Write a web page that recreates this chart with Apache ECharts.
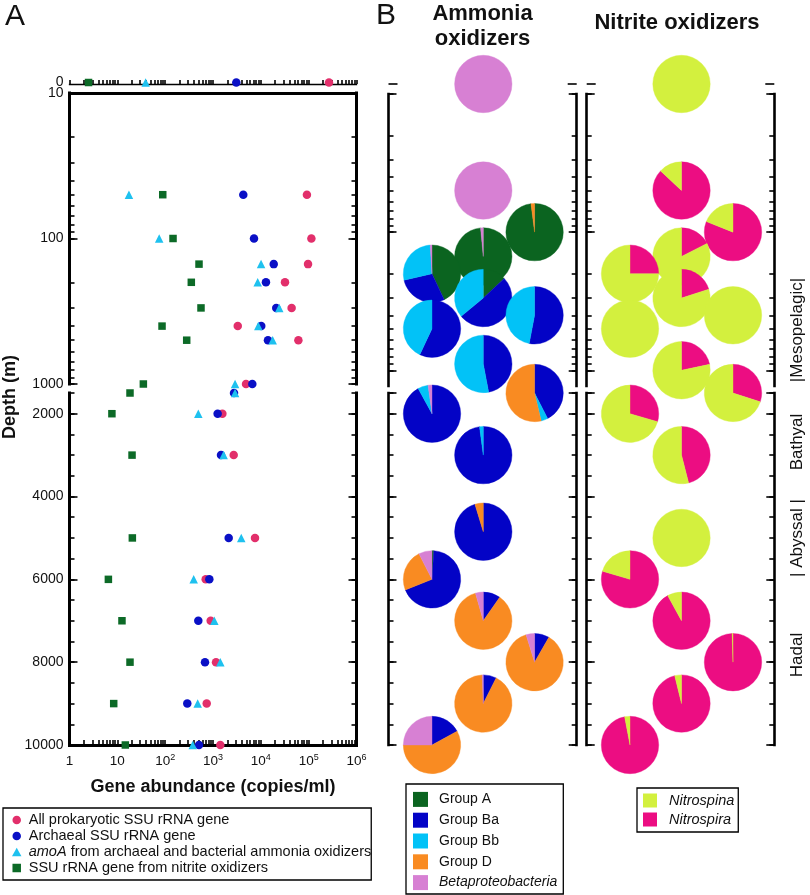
<!DOCTYPE html>
<html><head><meta charset="utf-8">
<script src="https://cdn.jsdelivr.net/npm/echarts@6/dist/echarts.min.js"></script>
<style>html,body{margin:0;padding:0;background:#fff}#c{width:810px;height:895px}</style>
</head><body><div id="c"></div>
<script>
// ---------------- Panel A data (gene abundance, copies/ml) ----------------
const depthA = [0, 50, 100, 150, 200, 300, 400, 500, 1000, 1500, 2000, 3000, 5000, 6000, 7000, 8000, 9000, 10000];
const allProkaryotic = [2.66e5, 9.2e4, 1.14e5, 9.7e4, 3.2e4, 4.4e4, 3290, 6.1e4, 4900, null, 1570, 2710, 7560, 704, 895, 1156, 739, 1422];
const archaealSSU   = [3070, 4300, 7200, 1.86e4, 1.28e4, 2.1e4, 1.02e4, 1.41e4, 6640, 2750, 1250, 1470, 2130, 838, 493, 680, 290, 510];
const amoAGene      = [39, 17.5, 75, 1.01e4, 8600, 2.43e4, 8860, 1.77e4, 2890, 2890, 493, 1670, 3900, 395, 1065, 1422, 479, 377];
const nitriteSSU    = [2.5, 89, 146, 510, 352, 561, 86, 282, 35, 18.4, 7.7, 20.3, 20.6, 6.5, 12.5, 18.4, 8.4, 14.7];

// ---------------- Panel B data (community composition, %) ----------------
const ammoniaDepth = [0, 50, 100, 150, 200, 300, 400, 500, 900, 1500, 2000, 3000, 4850, 6000, 7000, 8000, 9000, 10000];
const ammoniaCol   = [1, 1, 2, 1, 0, 1, 2, 0, 1, 2, 0, 1, 1, 0, 1, 2, 1, 0];
const groupA       = [0, 0, 98, 98.5, 43, 13, 0, 0, 0, 0, 0, 0, 0, 1, 0, 0, 0, 0];
const groupBa      = [0, 0, 0, 0, 28.4, 51, 53, 57, 47, 42.5, 92, 97.9, 95.3, 68, 9.7, 8.3, 7.4, 17];
const groupBb      = [0, 0, 0, 0, 27.6, 36, 47, 43, 53, 3.8, 5.8, 2.1, 0, 0, 0, 0, 0, 0];
const groupD       = [0, 0, 2, 0, 0, 0, 0, 0, 0, 53.7, 0, 0, 4.7, 23.5, 85.9, 86.9, 92, 58];
const betaproteo   = [100, 100, 0, 1.5, 1, 0, 0, 0, 0, 0, 2.2, 0, 0, 7.5, 4.4, 4.8, 0.6, 25];

const nitriteDepth = [0, 50, 100, 150, 200, 300, 400, 500, 1000, 1500, 2000, 3000, 5000, 6000, 7000, 8000, 9000, 10000];
const nitriteCol   = [1, 1, 2, 1, 0, 1, 2, 0, 1, 2, 0, 1, 1, 0, 1, 2, 1, 0];
const nitrospira   = [0, 87, 81, 17.5, 25, 20, 0, 0, 21.7, 30, 29.5, 46, 0, 79.6, 92, 99.5, 96.2, 97];
const nitrospina   = [100, 13, 19, 82.5, 75, 80, 100, 100, 78.3, 70, 70.5, 54, 100, 20.4, 8, 0.5, 3.8, 3];

// ---------------- tick values ----------------
const xLabelValues   = [1, 10, 100, 1000, 10000, 100000, 1000000];
const depthLogLabels = [10, 100, 1000];
const depthLinLabels = [2000, 4000, 6000, 8000, 10000];
const depthLinTicks  = [1500, 2000, 2500, 3000, 3500, 4000, 4500, 5000, 5500, 6000, 6500, 7000, 7500, 8000, 8500, 9000, 9500, 10000];
function logTicks(lo, hi) { const o = []; for (let d = lo; d < hi; d *= 10) for (let k = 1; k < 10; k++) o.push(k * d); o.push(hi); return o; }
const xMinorTicks = logTicks(1, 1e6);
const depthLogTicks = logTicks(10, 1000);

// ---------------- names & colours ----------------
const FF = '"Liberation Sans", Arial, Helvetica, sans-serif';
const TXT = '#111';
const nameAll = 'All prokaryotic SSU rRNA gene';
const nameArch = 'Archaeal SSU rRNA gene';
const nameAmoA = 'amoA from archaeal and bacterial ammonia oxidizers';
const nameNob = 'SSU rRNA gene from nitrite oxidizers';
const ammoniaNames = ['Group A', 'Group Ba', 'Group Bb', 'Group D', 'Betaproteobacteria'];
const ammoniaColors = ['#0b6420', '#0303c6', '#02c2f7', '#f98b22', '#d780d3'];
const nitriteNames = ['Nitrospira', 'Nitrospina'];
const nitriteColors = ['#ec0d82', '#d3f03e'];

// ---------------- layout helpers ----------------
const grids = [], xAxes = [], yAxes = [], series = [];
function addGrid(g) { grids.push(Object.assign({ outerBoundsMode: 'none', containLabel: false }, g)); return grids.length - 1; }
function addX(o) { xAxes.push(Object.assign({ splitLine: { show: false }, axisPointer: { show: false } }, o)); return xAxes.length - 1; }
function addY(o) { yAxes.push(Object.assign({ splitLine: { show: false }, axisPointer: { show: false } }, o)); return yAxes.length - 1; }
function line(w) { return { show: true, onZero: false, lineStyle: { color: '#000', width: w, cap: 'square' } }; }
function ticks(vals, len) { return { show: true, inside: true, length: len, customValues: vals, lineStyle: { color: '#000', width: 1.6 } }; }
const noLabel = { show: false };
const noLine = { show: false, onZero: false };
const plainNum = v => String(v);

function yAxisSet(gi, common, minor, major, labels, lw) {
  const first = addY(Object.assign({ gridIndex: gi, position: 'left', axisLine: line(lw), axisTick: ticks(minor, 5),
    axisLabel: labels ? { customValues: labels, fontSize: 14, margin: 6, color: TXT, fontFamily: FF, formatter: plainNum } : noLabel }, common));
  addY(Object.assign({ gridIndex: gi, position: 'left', axisLine: noLine, axisTick: ticks(major, 8), axisLabel: noLabel }, common));
  addY(Object.assign({ gridIndex: gi, position: 'right', axisLine: line(lw), axisTick: ticks(minor, 5), axisLabel: noLabel }, common));
  addY(Object.assign({ gridIndex: gi, position: 'right', axisLine: noLine, axisTick: ticks(major, 8), axisLabel: noLabel }, common));
  return first;
}
function sectionOf(d) { return d === 0 ? 0 : (d <= 1300 ? 1 : 2); }

// ---------------- Panel A ----------------
const AL = 69.5, AW = 287;
const gA = [addGrid({ left: AL, width: AW, top: 81, height: 3 }),
            addGrid({ left: AL, width: AW, top: 93, height: 291 }),
            addGrid({ left: AL, width: AW, top: 393, height: 352 })];
const xLog = { type: 'log', logBase: 10, min: 1, max: 1e6 };
const xA = [
  addX(Object.assign({ gridIndex: gA[0], position: 'bottom', axisLine: line(1.3), axisTick: ticks(xMinorTicks, 4), axisLabel: noLabel }, xLog)),
  addX(Object.assign({ gridIndex: gA[1], position: 'top', axisLine: line(3), axisTick: { show: false }, axisLabel: noLabel }, xLog)),
  addX(Object.assign({ gridIndex: gA[2], position: 'bottom', axisLine: line(3), axisTick: ticks(xMinorTicks, 5),
    axisLabel: { customValues: xLabelValues, margin: 8, color: TXT, fontFamily: FF, fontSize: 13.5,
      formatter: v => { const e = Math.round(Math.log10(v)); return e === 0 ? '{b|1}' : (e === 1 ? '{b|10}' : '{b|10}{s|' + e + '}'); },
      rich: { b: { fontSize: 13.5, lineHeight: 17, fontFamily: FF, color: TXT }, s: { fontSize: 9, lineHeight: 10, verticalAlign: 'top', fontFamily: FF, color: TXT } } },
    name: 'Gene abundance (copies/ml)', nameLocation: 'middle', nameGap: 33,
    nameTextStyle: { fontSize: 18, fontWeight: 'bold', fontFamily: FF, color: TXT } }, xLog))
];
const yA = [
  addY({ gridIndex: gA[0], type: 'value', min: -1, max: 1, position: 'left', axisLine: noLine, axisTick: { show: false },
    axisLabel: { customValues: [0], fontSize: 14, margin: 6, color: TXT, fontFamily: FF, formatter: plainNum } }),
  yAxisSet(gA[1], { type: 'log', logBase: 10, min: 10, max: 1000, inverse: true }, depthLogTicks, depthLogLabels, depthLogLabels, 3),
  yAxisSet(gA[2], { type: 'value', min: 1500, max: 10000, inverse: true }, depthLinTicks, depthLinLabels, depthLinLabels, 3)
];

const ICON_SQ = 'path://M0,0L10,0L10,10L0,10Z';
const ICON_TRI = 'path://M5,0L10,9L0,9Z';
const typesA = [
  { name: nameAll, vals: allProkaryotic, symbol: 'circle', size: 8.5, color: '#e22f6b' },
  { name: nameArch, vals: archaealSSU, symbol: 'circle', size: 8.5, color: '#0a10c6' },
  { name: nameAmoA, vals: amoAGene, symbol: 'triangle', size: 8.5, color: '#1ec1ef' },
  { name: nameNob, vals: nitriteSSU, symbol: 'rect', size: 7.5, color: '#0c6a27' }
];
typesA.forEach(t => {
  [0, 1, 2].forEach(s => {
    const data = [];
    depthA.forEach((d, i) => { if (sectionOf(d) === s && t.vals[i] != null) data.push([t.vals[i], s === 0 ? 0 : d]); });
    series.push({ type: 'scatter', name: t.name, xAxisIndex: xA[s], yAxisIndex: yA[s], symbol: t.symbol, symbolSize: t.size,
      itemStyle: { color: t.color, opacity: 1 }, data, clip: false, silent: true });
  });
});

// ---------------- Panel B ----------------
const R_PIE = 28.7;
function pieRenderer(colors) {
  return function (params, api) {
    const c = api.coord([api.value(0), api.value(1)]);
    const vals = colors.map((_, i) => api.value(2 + i) || 0);
    const total = vals.reduce((a, b) => a + b, 0);
    let a = -Math.PI / 2;
    const children = [];
    vals.forEach((v, i) => {
      if (v <= 0) return;
      const sweep = v / total * Math.PI * 2;
      children.push({ type: 'sector', shape: { cx: c[0], cy: c[1], r0: 0, r: R_PIE, startAngle: a, endAngle: a + sweep, clockwise: true },
        style: { fill: colors[i], stroke: colors[i], lineWidth: 0.4 } });
      a += sweep;
    });
    return { type: 'group', children };
  };
}
function buildPanelB(left, width, xmin, xmax, depths, cols, parts, colors) {
  const g = [addGrid({ left, width, top: 82, height: 4 }), addGrid({ left, width, top: 94, height: 292 }), addGrid({ left, width, top: 393, height: 352 })];
  const xs = g.map(gi => addX({ gridIndex: gi, type: 'value', min: xmin, max: xmax, show: false }));
  const ys = [];
  const y0 = addY({ gridIndex: g[0], type: 'value', min: -1, max: 1, position: 'left', axisLine: noLine, axisTick: ticks([0], 9), axisLabel: noLabel });
  addY({ gridIndex: g[0], type: 'value', min: -1, max: 1, position: 'right', axisLine: noLine, axisTick: ticks([0], 9), axisLabel: noLabel });
  ys.push(y0);
  ys.push(yAxisSet(g[1], { type: 'log', logBase: 10, min: 10, max: 1300, inverse: true }, depthLogTicks, depthLogLabels, null, 2.6));
  ys.push(yAxisSet(g[2], { type: 'value', min: 1500, max: 10000, inverse: true }, depthLinTicks, [1500].concat(depthLinLabels), null, 2.6));
  [0, 1, 2].forEach(s => {
    const data = [];
    depths.forEach((d, i) => { if (sectionOf(d) === s) data.push([cols[i], s === 0 ? 0 : d].concat(parts.map(p => p[i]))); });
    series.push({ type: 'custom', coordinateSystem: 'cartesian2d', xAxisIndex: xs[s], yAxisIndex: ys[s], renderItem: pieRenderer(colors),
      encode: { x: 0, y: 1 }, data, clip: false, silent: true });
  });
}
buildPanelB(388.5, 188.2, -0.848, 2.821, ammoniaDepth, ammoniaCol, [groupA, groupBa, groupBb, groupD, betaproteo], ammoniaColors);
buildPanelB(586.7, 187.6, -0.841, 2.802, nitriteDepth, nitriteCol, [nitrospira, nitrospina], nitriteColors);

// legend-only series for panel B
ammoniaNames.concat(nitriteNames).forEach((n, i) => {
  const col = i < 5 ? ammoniaColors[i] : nitriteColors[i - 5];
  series.push({ type: 'scatter', name: n, xAxisIndex: xA[0], yAxisIndex: yA[0], symbol: 'rect', itemStyle: { color: col, opacity: 1 }, data: [], silent: true });
});

function legendText(size, lh, padLeft) {
  const base = { fontSize: size, lineHeight: lh, fontFamily: FF, color: TXT, padding: [0, 0, 0, padLeft] };
  return { fontSize: size, lineHeight: lh, fontFamily: FF, color: TXT,
    rich: { n: base, i: Object.assign({}, base, { fontStyle: 'italic' }), n0: Object.assign({}, base, { padding: 0 }) } };
}
const legends = [
  { orient: 'vertical', left: 3, top: 808, itemWidth: 14, itemHeight: 8.5, itemGap: 0, padding: [4, 0, 4, 9],
    borderColor: '#000', borderWidth: 1.3, selectedMode: false, symbolKeepAspect: true,
    data: [{ name: nameAll, icon: 'circle' }, { name: nameArch, icon: 'circle' }, { name: nameAmoA, icon: ICON_TRI }, { name: nameNob, icon: ICON_SQ }],
    formatter: n => n.indexOf('amoA') === 0 ? '{i|amoA}{n0|' + n.slice(4) + '}' : '{n|' + n + '}',
    textStyle: legendText(14.5, 16, 0) },
  { orient: 'vertical', left: 406, top: 784, itemWidth: 15, itemHeight: 15, itemGap: 0, padding: [5, 6, 1, 7],
    borderColor: '#000', borderWidth: 1.3, selectedMode: false,
    data: ammoniaNames.map(n => ({ name: n, icon: 'rect' })),
    formatter: n => n === 'Betaproteobacteria' ? '{i|' + n + '}' : '{n|' + n + '}',
    textStyle: legendText(14, 20.8, 6) },
  { orient: 'vertical', left: 637, top: 788, itemWidth: 14, itemHeight: 14, itemGap: 0, padding: [3, 4, 3, 6],
    borderColor: '#000', borderWidth: 1.3, selectedMode: false,
    data: [{ name: 'Nitrospina', icon: 'rect' }, { name: 'Nitrospira', icon: 'rect' }],
    formatter: n => '{i|' + n + '}',
    textStyle: legendText(14.5, 19, 7) }
];

function txt(text, x, y, size, weight, rot) {
  return { type: 'text', x, y, rotation: rot || 0, silent: true,
    style: { text, fontSize: size, fontWeight: weight || 'normal', fontFamily: FF, fill: TXT, align: 'center', verticalAlign: 'middle' } };
}
const graphics = [
  txt('A', 15, 17, 30),
  txt('B', 386, 16, 30),
  txt('Ammonia', 482.5, 13.5, 22, 'bold'),
  txt('oxidizers', 482.5, 38.8, 22, 'bold'),
  txt('Nitrite oxidizers', 677, 23.2, 22, 'bold'),
  txt('Depth (m)', 10, 397, 18, 'bold', Math.PI / 2),
  txt('|Mesopelagic|', 797, 330, 17, 'normal', Math.PI / 2),
  txt('Bathyal', 797, 442, 17, 'normal', Math.PI / 2),
  txt('| Abyssal |', 797, 538, 17, 'normal', Math.PI / 2),
  txt('Hadal', 797, 655, 17, 'normal', Math.PI / 2)
];

const chart = echarts.init(document.getElementById('c'), null, { renderer: 'canvas' });
chart.setOption({
  animation: false,
  backgroundColor: '#fff',
  textStyle: { fontFamily: FF },
  grid: grids, xAxis: xAxes, yAxis: yAxes, series,
  legend: legends,
  graphic: graphics,
  tooltip: { show: false }
});
</script></body></html>
